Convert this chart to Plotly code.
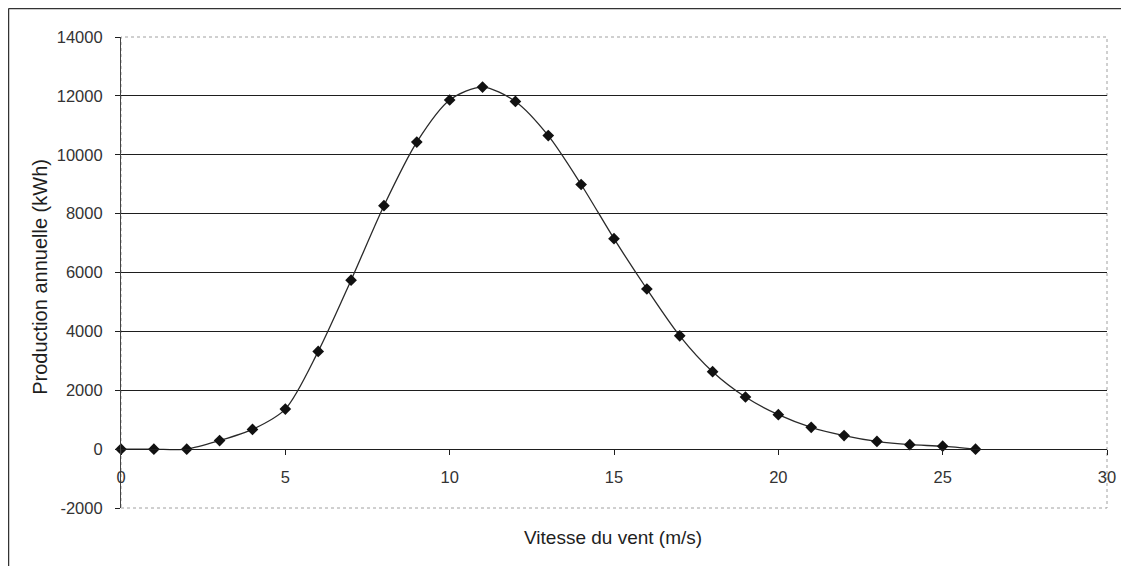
import plotly.graph_objects as go

wind_speed = list(range(0, 27))
production = [0, 0, 0, 290, 670, 1360, 3320, 5740, 8270, 10430, 11860, 12300,
              11810, 10650, 8990, 7150, 5440, 3850, 2630, 1770, 1170, 740,
              460, 260, 150, 100, 0]

y_ticks = list(range(-2000, 14001, 2000))
x_ticks = list(range(0, 31, 5))
grid_vals = list(range(2000, 12001, 2000))

FONT = "Liberation Sans, Arial, sans-serif"
DARK = "#1e1e1e"

fig = go.Figure()
fig.add_trace(go.Scatter(
    x=wind_speed, y=production, mode="lines+markers",
    line=dict(color="#2a2a2a", width=1.3, shape="spline", smoothing=0.8),
    marker=dict(symbol="diamond", size=9, color="#111111"),
    cliponaxis=False, showlegend=False,
))

fig.update_layout(
    width=1129, height=566,
    margin=dict(l=113, r=30, t=29, b=66),
    paper_bgcolor="white", plot_bgcolor="white",
    font=dict(family=FONT, size=16, color=DARK),
    xaxis=dict(
        range=[0, 30], tickvals=x_ticks, ticktext=[str(v) for v in x_ticks],
        anchor="free", position=0.125,
        showline=True, linecolor=DARK, linewidth=1.2,
        ticks="outside", ticklen=5, tickcolor=DARK,
        showgrid=False, zeroline=False, ticklabelstandoff=8,
        tickfont=dict(size=16.5, color="#333333"),
    ),
    yaxis=dict(
        range=[-2000, 14000], tickvals=y_ticks, ticktext=[str(v) for v in y_ticks],
        showline=True, linecolor="#444444", linewidth=1.2,
        ticks="outside", ticklen=5, tickcolor=DARK,
        showgrid=False, zeroline=False, ticklabelstandoff=9,
        tickfont=dict(size=16.5, color="#333333"),
        minor=dict(tickvals=grid_vals, showgrid=True, gridcolor=DARK, gridwidth=1.2, ticks=""),
    ),
    shapes=[
        dict(type="rect", xref="paper", yref="paper", x0=0, x1=1, y0=0, y1=1,
             line=dict(color="#a0a0a0", width=1, dash="dot"), layer="below"),
        dict(type="line", xref="paper", yref="paper", x0=-0.1141, x1=1.05, y0=1.0605, y1=1.0605,
             line=dict(color="#333333", width=1.5)),
        dict(type="line", xref="paper", yref="paper", x0=-0.1141, x1=-0.1141, y0=1.0605, y1=-0.2,
             line=dict(color="#333333", width=1.5)),
    ],
    annotations=[
        dict(text="Vitesse du vent (m/s)", xref="paper", yref="paper", x=0.499, y=-0.0616,
             showarrow=False, font=dict(size=19, color=DARK, family=FONT), xanchor="center", yanchor="middle"),
        dict(text="Production annuelle (kWh)", xref="paper", yref="paper", x=-0.0816, y=0.49,
             showarrow=False, textangle=-90, font=dict(size=20, color=DARK, family=FONT),
             xanchor="center", yanchor="middle"),
    ],
)

fig.write_html("out.html")
